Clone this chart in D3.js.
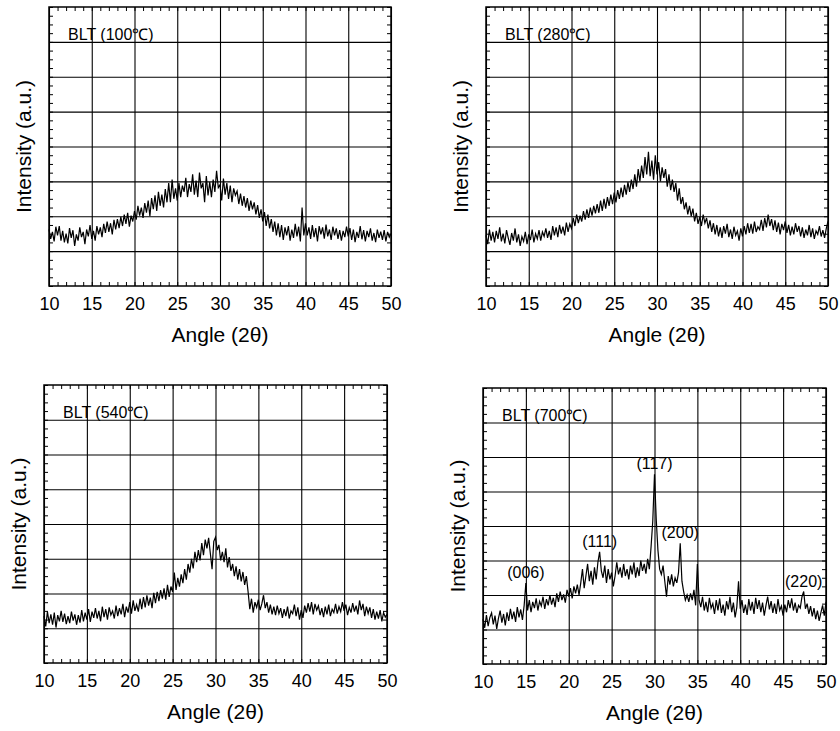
<!DOCTYPE html>
<html>
<head>
<meta charset="utf-8">
<script src="https://cdn.jsdelivr.net/npm/d3@7"></script>
<style>
  body { margin: 0; background: #fff; }
  text { font-family: "Liberation Sans", Arial, Helvetica, sans-serif; fill: #000; }
</style>
</head>
<body>
<svg id="chart" width="840" height="731"></svg>
<script>
// scan range of every pattern (deg 2theta), one reading each 0.2 deg
var angleStart = 10, angleEnd = 50, angleStep = 0.2;
var xTicks = [10, 15, 20, 25, 30, 35, 40, 45, 50];
var titles = ["BLT (100℃)", "BLT (280℃)", "BLT (540℃)", "BLT (700℃)"];

// intensities in a.u., one row per degree
var int100 = [
  1.62, 1.35, 1.55, 1.28, 1.70,  1.45, 1.72, 1.30, 1.58, 1.25,
  1.50, 1.22, 1.66, 1.38, 1.60,  1.15, 1.48, 1.30, 1.68, 1.40,
  1.55, 1.20, 1.62, 1.42, 1.75,  1.35, 1.58, 1.30, 1.72, 1.48,
  1.68, 1.40, 1.78, 1.52, 1.85,  1.55, 1.80, 1.48, 1.90, 1.62,
  1.92, 1.66, 1.98, 1.72, 2.05,  1.78, 2.10, 1.70, 2.02, 1.85,
  2.15, 1.90, 2.30, 2.02, 2.25,  1.95, 2.38, 2.10, 2.45, 2.00,
  2.52, 2.20, 2.60, 2.15, 2.70,  2.30, 2.62, 2.25, 2.78, 2.40,
  2.95, 2.40, 3.05, 2.50, 2.80,  2.45, 2.95, 2.55, 2.88, 2.70,
  3.10, 2.55, 2.92, 2.70, 3.20,  2.62, 3.02, 2.55, 3.25, 2.80,
  2.95, 2.40, 3.15, 2.60, 2.98,  2.55, 3.05, 2.70, 3.30, 2.82,
  2.90, 2.45, 3.08, 2.62, 2.95,  2.50, 2.88, 2.40, 2.80, 2.60,
  2.72, 2.35, 2.65, 2.30, 2.58,  2.25, 2.52, 2.15, 2.45, 2.20,
  2.40, 2.05, 2.32, 1.95, 2.20,  1.85, 2.12, 1.72, 2.05, 1.65,
  1.92, 1.55, 1.85, 1.45, 1.80,  1.40, 1.75, 1.32, 1.68, 1.45,
  1.72, 1.30, 1.62, 1.38, 1.78,  1.42, 1.70, 1.28, 2.25, 1.45,
  1.80, 1.45, 1.68, 1.35, 1.75,  1.40, 1.66, 1.28, 1.72, 1.48,
  1.68, 1.36, 1.76, 1.42, 1.62,  1.32, 1.70, 1.45, 1.65, 1.35,
  1.60, 1.30, 1.58, 1.40, 1.70,  1.42, 1.66, 1.32, 1.62, 1.26,
  1.55, 1.38, 1.72, 1.34, 1.60,  1.28, 1.58, 1.40, 1.65, 1.30,
  1.52, 1.26, 1.62, 1.38, 1.56,  1.32, 1.60, 1.28, 1.55, 1.40,
  1.50
];
var int280 = [
  1.45, 1.20, 1.62, 1.30, 1.55,  1.25, 1.58, 1.35, 1.68, 1.28,
  1.50, 1.22, 1.60, 1.38, 1.18,  1.52, 1.30, 1.65, 1.25, 1.48,
  1.15, 1.42, 1.28, 1.55, 1.20,  1.48, 1.32, 1.62, 1.25, 1.50,
  1.35, 1.60, 1.30, 1.55, 1.42,  1.65, 1.38, 1.58, 1.32, 1.72,
  1.45, 1.68, 1.40, 1.75, 1.50,  1.70, 1.45, 1.82, 1.55, 1.78,
  1.65, 1.95, 1.72, 2.05, 1.80,  2.02, 1.85, 2.15, 1.90, 2.20,
  1.95, 2.25, 2.02, 2.30, 2.08,  2.35, 2.10, 2.45, 2.15, 2.50,
  2.22, 2.55, 2.30, 2.62, 2.35,  2.68, 2.40, 2.75, 2.50, 2.82,
  2.55, 2.90, 2.62, 2.98, 2.70,  3.05, 2.78, 3.20, 2.85, 3.35,
  3.00, 3.45, 3.10, 3.70, 3.20,  3.85, 3.15, 3.60, 3.05, 3.75,
  3.20, 3.55, 3.00, 3.40, 3.10,  3.35, 2.85, 3.20, 2.75, 3.05,
  2.70, 2.95, 2.45, 2.80, 2.35,  2.55, 2.20, 2.40, 2.05, 2.30,
  2.00, 2.22, 1.85, 2.10, 1.78,  1.98, 1.72, 2.05, 1.80, 1.95,
  1.65, 1.88, 1.55, 1.80, 1.48,  1.75, 1.42, 1.68, 1.38, 1.72,
  1.50, 1.78, 1.40, 1.62, 1.35,  1.70, 1.45, 1.58, 1.30, 1.65,
  1.42, 1.72, 1.48, 1.80, 1.52,  1.78, 1.50, 1.85, 1.55, 1.70,
  1.62, 1.90, 1.58, 1.95, 1.68,  2.05, 1.72, 1.92, 1.60, 1.88,
  1.55, 1.82, 1.48, 1.78, 1.60,  1.85, 1.52, 1.75, 1.45, 1.70,
  1.48, 1.80, 1.55, 1.72, 1.42,  1.68, 1.38, 1.62, 1.45, 1.75,
  1.40, 1.65, 1.35, 1.58, 1.48,  1.72, 1.42, 1.60, 1.38, 1.65,
  1.85
];
var int540 = [
  1.35, 1.05, 1.48, 1.15, 1.40,  1.10, 1.45, 1.02, 1.38, 1.20,
  1.50, 1.18, 1.42, 1.12, 1.35,  1.15, 1.48, 1.22, 1.40, 1.10,
  1.38, 1.16, 1.52, 1.20, 1.45,  1.25, 1.55, 1.18, 1.48, 1.30,
  1.58, 1.28, 1.50, 1.20, 1.62,  1.32, 1.55, 1.25, 1.60, 1.38,
  1.50, 1.28, 1.65, 1.35, 1.58,  1.40, 1.70, 1.32, 1.62, 1.45,
  1.75, 1.42, 1.80, 1.50, 1.68,  1.48, 1.85, 1.55, 1.90, 1.60,
  1.95, 1.65, 1.88, 1.58, 2.02,  1.72, 2.05, 1.78, 2.10, 1.85,
  2.15, 1.82, 2.25, 1.90, 2.20,  2.05, 2.60, 2.10, 2.45, 2.20,
  2.55, 2.30, 2.70, 2.40, 2.85,  2.60, 3.00, 2.72, 3.20, 2.90,
  3.25, 2.95, 3.45, 3.10, 3.55,  3.30, 3.60, 3.15, 2.70, 3.50,
  3.62, 3.25, 3.40, 2.95, 3.20,  2.90, 3.30, 2.75, 3.05, 2.65,
  2.85, 2.50, 2.78, 2.40, 2.70,  2.35, 2.62, 2.25, 2.50, 2.05,
  1.55, 1.85, 1.45, 1.75, 1.60,  1.82, 1.52, 1.70, 1.95, 1.58,
  1.75, 1.45, 1.68, 1.40, 1.62,  1.38, 1.65, 1.42, 1.58, 1.30,
  1.55, 1.35, 1.62, 1.28, 1.50,  1.42, 1.68, 1.35, 1.60, 1.25,
  1.52, 1.30, 1.65, 1.45, 1.72,  1.48, 1.75, 1.40, 1.70, 1.52,
  1.65, 1.38, 1.58, 1.32, 1.62,  1.40, 1.68, 1.35, 1.55, 1.45,
  1.70, 1.42, 1.62, 1.48, 1.75,  1.50, 1.68, 1.38, 1.60, 1.45,
  1.72, 1.48, 1.65, 1.40, 1.80,  1.52, 1.70, 1.35, 1.62, 1.42,
  1.60, 1.30, 1.55, 1.25, 1.48,  1.28, 1.52, 1.20, 1.45, 1.32,
  1.40
];
var int700 = [
  1.30, 1.05, 1.42, 1.10, 1.35,  1.48, 1.15, 1.40, 1.02, 1.32,
  1.55, 1.20, 1.45, 1.12, 1.50,  1.25, 1.60, 1.30, 1.52, 1.22,
  1.65, 1.35, 1.58, 1.28, 1.70,  2.35, 1.55, 1.85, 1.50, 1.80,
  1.62, 1.90, 1.55, 1.82, 1.68,  1.95, 1.60, 1.88, 1.70, 2.00,
  1.72, 1.92, 1.65, 2.05, 1.80,  2.10, 1.85, 2.02, 1.78, 2.15,
  1.95, 2.20, 1.90, 2.25, 2.05,  2.30, 2.00, 2.35, 2.75, 2.20,
  2.55, 2.90, 2.40, 2.70, 2.30,  2.80, 2.45, 2.95, 3.25, 2.70,
  2.50, 2.85, 2.35, 2.75, 2.45,  2.65, 2.25, 2.55, 2.95, 2.60,
  2.80, 2.50, 2.90, 2.55, 2.75,  2.45, 2.85, 2.60, 2.95, 2.50,
  2.80, 2.55, 3.00, 2.70, 2.90,  2.62, 3.05, 2.75, 3.40, 4.15,
  5.50, 4.20, 3.30, 2.75, 2.60,  2.85, 2.40, 1.95, 2.55, 2.30,
  2.60, 2.25, 2.50, 2.35, 2.65,  3.50, 2.40, 2.10, 1.85, 2.00,
  1.80, 2.05, 1.85, 2.15, 1.70,  2.90, 1.85, 1.65, 1.95, 1.55,
  1.80, 1.50, 1.92, 1.62, 1.75,  1.45, 1.85, 1.55, 1.90, 1.48,
  1.72, 1.40, 1.82, 1.58, 1.95,  1.50, 1.78, 1.35, 1.65, 2.40,
  1.60, 1.85, 1.48, 1.72, 1.42,  1.88, 1.55, 1.80, 1.45, 1.92,
  1.60, 1.85, 1.50, 1.78, 1.40,  1.70, 1.95, 1.58, 1.82, 1.48,
  1.75, 1.45, 1.88, 1.55, 1.68,  1.40, 1.72, 1.50, 1.85, 1.62,
  1.90, 1.55, 1.78, 1.48, 1.70,  1.62, 1.95, 2.10, 1.60, 1.75,
  1.45, 1.68, 1.38, 1.62, 1.30,  1.55, 1.25, 1.48, 1.70, 1.40,
  1.80
];

// reflections marked on the 700 C pattern
var peakLabels = ["(006)", "(111)", "(117)", "(200)", "(220)"];
var peakAngles = [15, 23.6, 30, 33, 47.4];

var svg = d3.select("#chart");

// plot frames (pixels) of the four panels
var panels = [
  {x0: 49,  x1: 391, y0: 7,   y1: 286, values: int100, title: titles[0]},
  {x0: 486, x1: 828, y0: 7,   y1: 286, values: int280, title: titles[1]},
  {x0: 44,  x1: 387, y0: 385, y1: 663, values: int540, title: titles[2]},
  {x0: 483, x1: 826, y0: 388, y1: 664, values: int700, title: titles[3], peaks: true}
];

function drawPanel(p) {
  var x = d3.scaleLinear().domain([angleStart, angleEnd]).range([p.x0, p.x1]);
  var y = d3.scaleLinear().domain([0, 8]).range([p.y1, p.y0]);
  var w = p.x1 - p.x0, h = p.y1 - p.y0;
  var g = svg.append("g");

  // grid
  g.append("g")
      .attr("transform", "translate(0," + p.y1 + ")")
      .call(d3.axisBottom(x).tickValues(xTicks).tickSize(-h).tickFormat(""))
      .call(s => s.select(".domain").remove())
      .selectAll("line").attr("stroke", "#000").attr("stroke-width", 1.1);
  g.append("g")
      .attr("transform", "translate(" + p.x0 + ",0)")
      .call(d3.axisLeft(y).tickValues(d3.range(1, 8)).tickSize(-w).tickFormat(""))
      .call(s => s.select(".domain").remove())
      .selectAll("line").attr("stroke", "#000").attr("stroke-width", 1.1);

  // minor ticks, pointing inward on all four sides
  var xMinor = d3.range(angleStart, angleEnd + 1, 1);
  var yMinor = d3.range(0, 8.01, 0.25);
  [[d3.axisBottom(x).tickValues(xMinor), "translate(0," + p.y1 + ")"],
   [d3.axisTop(x).tickValues(xMinor), "translate(0," + p.y0 + ")"],
   [d3.axisLeft(y).tickValues(yMinor), "translate(" + p.x0 + ",0)"],
   [d3.axisRight(y).tickValues(yMinor), "translate(" + p.x1 + ",0)"]].forEach(function(a) {
    g.append("g")
        .attr("transform", a[1])
        .call(a[0].tickSizeInner(-4).tickSizeOuter(0).tickFormat(""))
        .call(s => s.select(".domain").remove())
        .selectAll("line").attr("stroke", "#000").attr("stroke-width", 1);
  });

  // tick labels
  g.append("g")
      .attr("transform", "translate(0," + p.y1 + ")")
      .call(d3.axisBottom(x).tickValues(xTicks).tickSize(0).tickPadding(11))
      .call(s => s.select(".domain").remove())
      .selectAll("text")
        .attr("font-size", "18px")
        .attr("font-family", "'Liberation Sans', Arial, sans-serif");

  // frame
  g.append("rect")
      .attr("x", p.x0).attr("y", p.y0)
      .attr("width", w).attr("height", h)
      .attr("fill", "none").attr("stroke", "#000").attr("stroke-width", 1.5);

  // pattern
  var line = d3.line()
      .x(function(d, i) { return x(angleStart + i * angleStep); })
      .y(function(d) { return y(d); });
  g.append("path")
      .datum(p.values)
      .attr("d", line)
      .attr("fill", "none")
      .attr("stroke", "#000")
      .attr("stroke-width", 1.2);

  // texts
  g.append("text")
      .attr("x", p.x0 + 19).attr("y", p.y0 + 33)
      .attr("font-size", "16px")
      .text(p.title);

  g.append("text")
      .attr("x", (p.x0 + p.x1) / 2).attr("y", p.y1 + 56)
      .attr("text-anchor", "middle")
      .attr("font-size", "21px")
      .text("Angle (2θ)");

  g.append("text")
      .attr("transform", "translate(" + (p.x0 - 25) + "," + ((p.y0 + p.y1) / 2) + ") rotate(-90)")
      .attr("text-anchor", "middle")
      .attr("dy", "0.35em")
      .attr("font-size", "21px")
      .text("Intensity (a.u.)");

  if (p.peaks) {
    peakLabels.forEach(function(lab, k) {
      var a = peakAngles[k];
      var top = d3.max(p.values.filter(function(d, i) {
        return Math.abs(angleStart + i * angleStep - a) < 0.35;
      }));
      g.append("text")
          .attr("x", x(a)).attr("y", y(top) - 5)
          .attr("text-anchor", "middle")
          .attr("font-size", "16px")
          .text(lab);
    });
  }
}

panels.forEach(drawPanel);
</script>
</body>
</html>
